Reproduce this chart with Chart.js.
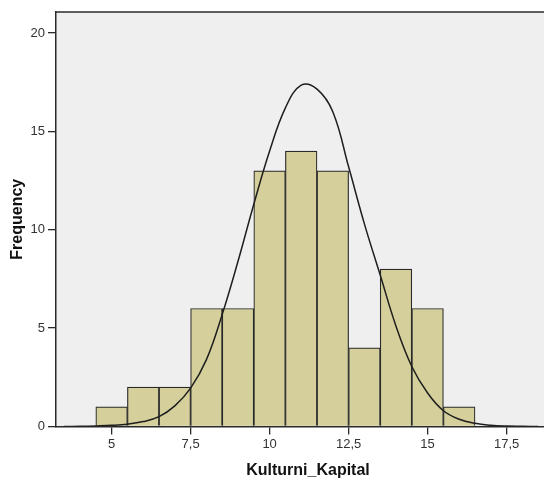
<!DOCTYPE html>
<html>
<head>
<meta charset="utf-8">
<script src="https://cdn.jsdelivr.net/npm/chart.js@4.4.1/dist/chart.umd.min.js"></script>
<style>
  html, body { margin: 0; padding: 0; background: #fff; overflow: hidden; }
  #wrap { width: 560px; height: 480px; }
</style>
</head>
<body>
<div id="wrap"><canvas id="histChart" width="560" height="480"></canvas></div>
<script>
// Histogram bins (bin centres) and counts
const binCentres = [5, 6, 7, 8, 9, 10, 11, 12, 13, 14, 15, 16];
const binCounts = [1, 2, 2, 6, 6, 13, 14, 13, 4, 8, 6, 1];

// Normal curve overlay, read along x
const curveX = [3.5, 4, 4.5, 5, 5.5, 6, 6.5, 7, 7.5, 8, 8.5, 9, 9.5, 10, 10.5, 11, 11.5, 12, 12.5, 13, 13.5, 14, 14.5, 15, 15.5, 16, 16.5, 17, 17.5, 18, 18.5];
const curveY = [0, 0.01, 0.03, 0.06, 0.12, 0.25, 0.5, 1.05, 1.95, 3.4, 5.7, 8.4, 11.3, 14.0, 16.2, 17.35, 17.15, 16.0, 13.2, 10.3, 7.7, 5.1, 3.05, 1.7, 0.8, 0.37, 0.16, 0.06, 0.02, 0.01, 0];

const xTicks = [5, 7.5, 10, 12.5, 15, 17.5];
const yTicks = [0, 5, 10, 15, 20];

const ink = '#2a2a2a';

new Chart(document.getElementById('histChart'), {
    type: 'bar',
    data: {
        datasets: [{
            type: 'bar',
            data: binCentres.map((x, i) => ({ x: x, y: binCounts[i] })),
            backgroundColor: '#d4cf9b',
            borderColor: ink,
            borderWidth: 1.2,
            barPercentage: 1,
            categoryPercentage: 1,
            order: 2
        }, {
            type: 'line',
            data: curveX.map((x, i) => ({ x: x, y: curveY[i] })),
            borderColor: '#1e1e1e',
            borderWidth: 1.5,
            pointRadius: 0,
            tension: 0.4,
            fill: false,
            order: 1
        }]
    },
    options: {
        responsive: false,
        animation: false,
        layout: { padding: { top: 12, right: 0, left: 0, bottom: 0 } },
        plugins: {
            legend: { display: false },
            tooltip: { enabled: false }
        },
        scales: {
            x: {
                type: 'linear',
                offset: false,
                min: 3.24,
                max: 19.19,
                afterBuildTicks: s => { s.ticks = xTicks.map(v => ({ value: v })); },
                afterFit: s => { s.height = 53.5; },
                ticks: {
                    color: '#333',
                    font: { family: 'Liberation Sans', size: 13 },
                    padding: 2,
                    maxRotation: 0,
                    callback: v => String(v).replace('.', ',')
                },
                grid: { offset: false, drawOnChartArea: false, drawTicks: true, tickLength: 8, color: ink, lineWidth: 1.3 },
                border: { color: ink, width: 1.5 },
                title: {
                    display: true,
                    text: 'Kulturni_Kapital',
                    color: '#111',
                    font: { family: 'Liberation Sans', size: 16, weight: 'bold' },
                    padding: { top: 4, bottom: 0 }
                }
            },
            y: {
                type: 'linear',
                min: 0,
                max: 21.07,
                afterBuildTicks: s => { s.ticks = yTicks.map(v => ({ value: v })); },
                afterFit: s => { s.width = 56; },
                ticks: {
                    color: '#333',
                    font: { family: 'Liberation Sans', size: 13 },
                    padding: 3
                },
                grid: { drawOnChartArea: false, drawTicks: true, tickLength: 8, color: ink, lineWidth: 1.3 },
                border: { color: ink, width: 1.5 },
                title: {
                    display: true,
                    text: 'Frequency',
                    color: '#111',
                    font: { family: 'Liberation Sans', size: 16, weight: 'bold' },
                    padding: { top: 8, bottom: 0 }
                }
            }
        }
    },
    plugins: [{
        id: 'plotFrame',
        beforeDraw(chart) {
            const a = chart.chartArea, c = chart.ctx;
            c.save();
            c.fillStyle = '#efefef';
            c.fillRect(a.left, a.top, a.right - a.left, a.bottom - a.top);
            c.strokeStyle = ink;
            c.lineWidth = 1.5;
            c.beginPath();
            c.moveTo(a.left, a.top);
            c.lineTo(a.right, a.top);
            c.stroke();
            c.restore();
        }
    }]
});
</script>
</body>
</html>
